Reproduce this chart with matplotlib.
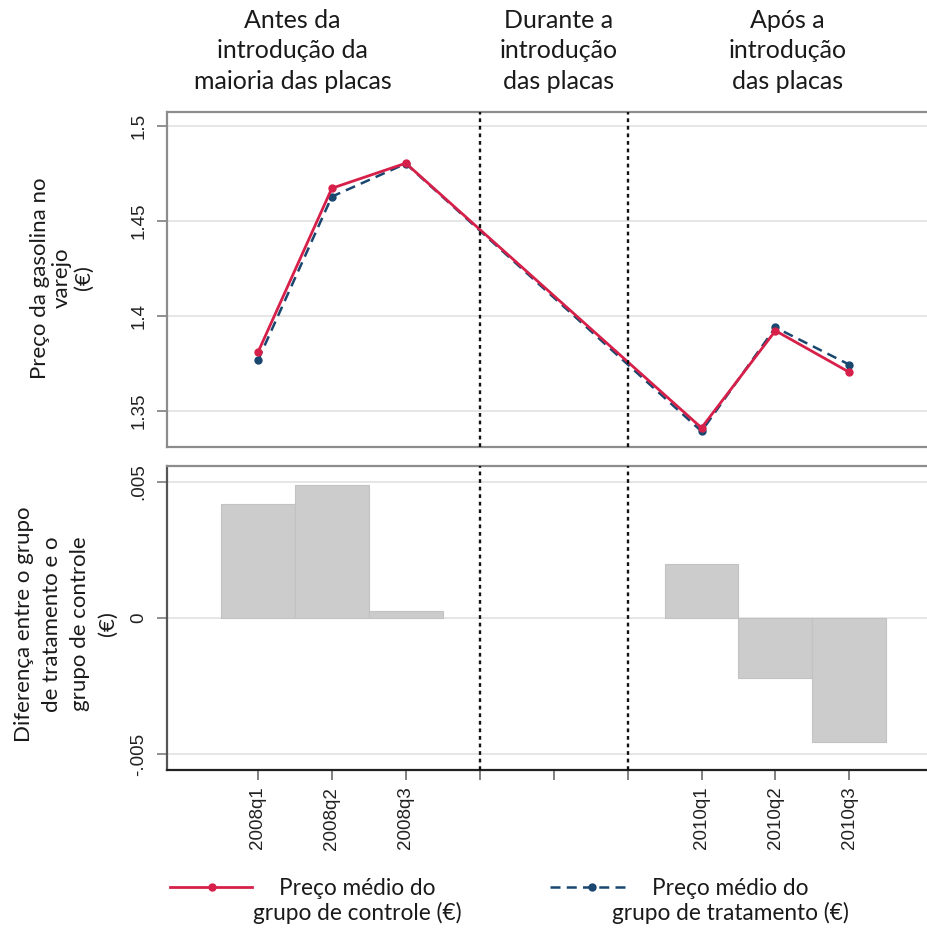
import matplotlib
matplotlib.use("Agg")
import matplotlib.pyplot as plt
from matplotlib.lines import Line2D
from matplotlib.transforms import blended_transform_factory
from matplotlib.ticker import FixedLocator, FixedFormatter

plt.rcParams['font.family'] = ['Lato', 'DejaVu Sans']
TICK_FONT = ['Liberation Sans', 'DejaVu Sans']

# Quarter slots on the x axis (2008q4-2009q4 collapsed into the middle band)
tick_labels = ["2008q1", "2008q2", "2008q3", "", "", "", "2010q1", "2010q2", "2010q3"]
obs_pos = [0, 1, 2, 6, 7, 8]

# Mean retail gasoline price (EUR)
price_control = [1.3807, 1.4672, 1.4804, 1.3409, 1.3921, 1.3702]
price_treatment = [1.3765, 1.4628, 1.4802, 1.3391, 1.3938, 1.3742]

# Difference between the groups (EUR)
price_diff = [0.0042, 0.0049, 0.00025, 0.0020, -0.0022, -0.00455]

# Period boundaries
boundaries = [3, 5]
period_titles = ["Antes da\nintrodução da\nmaioria das placas",
                 "Durante a\nintrodução\ndas placas",
                 "Após a\nintrodução\ndas placas"]
period_centers = [0.47, 4.07, 7.16]

RED = '#d6204a'
NAVY = '#1a476f'
W, H = 927, 931

fig = plt.figure(figsize=(W / 100, H / 100), dpi=100)

def fx(px):
    return px / W

def fy(py):
    return 1 - py / H

left_px = 167
ax1 = fig.add_axes([fx(left_px), fy(447), fx(W - left_px), (447 - 112) / H])
ax2 = fig.add_axes([fx(left_px), fy(770), fx(W - left_px), (770 - 466) / H])

xlim = (-1.23, 9.05)

# ---- top panel: price lines ----
ax1.set_xlim(*xlim)
ax1.set_ylim(1.3308, 1.5074)
ax1.plot(obs_pos, price_treatment, color=NAVY, lw=1.8, ls=(0, (4, 2.5)),
         marker='o', ms=5, zorder=3)
ax1.plot(obs_pos, price_control, color=RED, lw=2.0, marker='o', ms=5, zorder=4)
yt1 = [1.35, 1.4, 1.45, 1.5]
ax1.yaxis.set_major_locator(FixedLocator(yt1))
ax1.yaxis.set_major_formatter(FixedFormatter(["1.35", "1.4", "1.45", "1.5"]))
ax1.grid(axis='y', color='#e4e4e4', lw=1.3)
ax1.set_axisbelow(True)
ax1.tick_params(axis='x', length=0, labelbottom=False)
for s in ['top', 'bottom', 'left']:
    ax1.spines[s].set_color('#8c8c8c')
    ax1.spines[s].set_linewidth(1.6)
ax1.spines['right'].set_visible(False)

# ---- bottom panel: difference bars ----
ax2.set_xlim(*xlim)
ax2.set_ylim(-0.00559, 0.00559)
ax2.bar(obs_pos, price_diff, width=1.0, color='#cccccc', edgecolor='#c2c2c2',
        lw=0.8, zorder=2)
ax2.yaxis.set_major_locator(FixedLocator([-0.005, 0, 0.005]))
ax2.yaxis.set_major_formatter(FixedFormatter(["-.005", "0", ".005"]))
ax2.grid(axis='y', color='#e4e4e4', lw=1.3)
ax2.set_axisbelow(True)
ax2.xaxis.set_major_locator(FixedLocator(list(range(len(tick_labels)))))
ax2.xaxis.set_major_formatter(FixedFormatter(tick_labels))
ax2.spines['top'].set_color('#8c8c8c')
ax2.spines['top'].set_linewidth(1.6)
ax2.spines['left'].set_color('#555555')
ax2.spines['left'].set_linewidth(1.6)
ax2.spines['bottom'].set_color('#222222')
ax2.spines['bottom'].set_linewidth(1.6)
ax2.spines['right'].set_visible(False)
ax2.tick_params(axis='x', direction='out', length=7, width=1.3, color='#777777',
                pad=5, labelsize=13.5, labelrotation=90, labelcolor='#222222')

for ax in (ax1, ax2):
    ax.tick_params(axis='y', direction='out', length=7, width=1.3, color='#888888',
                   pad=7, labelsize=13.5, labelcolor='#222222')
    for lbl in ax.get_yticklabels():
        lbl.set_rotation(90)
        lbl.set_va('center')
        lbl.set_ha('right')
        lbl.set_family(TICK_FONT)
    for b in boundaries:
        ax.axvline(b, color='#111111', lw=1.7, ls=(0, (1.6, 1.6)), zorder=5)
for lbl in ax2.get_xticklabels():
    lbl.set_family(TICK_FONT)

# ---- period headers ----
hdr_tr = blended_transform_factory(ax1.transData, fig.transFigure)
for xc, title in zip(period_centers, period_titles):
    ax1.text(xc, fy(51), title, transform=hdr_tr, ha='center', va='center',
             multialignment='center', fontsize=18, color='#1a1a1a', linespacing=1.4)

# ---- axis titles ----
fig.text(fx(62), fy(278), "Preço da gasolina no\nvarejo\n(€)", rotation=90,
         ha='center', va='center', multialignment='center', fontsize=16,
         color='#1a1a1a', linespacing=1.1)
fig.text(fx(66), fy(624), "Diferença entre o grupo\nde tratamento e o\ngrupo de controle\n(€)",
         rotation=90, ha='center', va='center', multialignment='center', fontsize=16,
         color='#1a1a1a', linespacing=1.5)

# ---- legend ----
leg_y = fy(887)
fig.add_artist(Line2D([fx(170), fx(252)], [leg_y, leg_y], transform=fig.transFigure,
                      color=RED, lw=2.0))
fig.add_artist(Line2D([fx(212)], [leg_y], transform=fig.transFigure,
                      color=RED, marker='o', ms=5, lw=0))
fig.add_artist(Line2D([fx(550), fx(629)], [leg_y, leg_y], transform=fig.transFigure,
                      color=NAVY, lw=1.8, ls=(0, (4, 2.5))))
fig.add_artist(Line2D([fx(592)], [leg_y], transform=fig.transFigure,
                      color=NAVY, marker='o', ms=5, lw=0))
fig.text(fx(357), fy(901), "Preço médio do\ngrupo de controle (€)", ha='center',
         va='center', multialignment='center', fontsize=16.3, color='#1a1a1a',
         linespacing=1.2)
fig.text(fx(730), fy(901), "Preço médio do\ngrupo de tratamento (€)", ha='center',
         va='center', multialignment='center', fontsize=16.3, color='#1a1a1a',
         linespacing=1.2)

fig.savefig("out.png", dpi=100, facecolor='white')
